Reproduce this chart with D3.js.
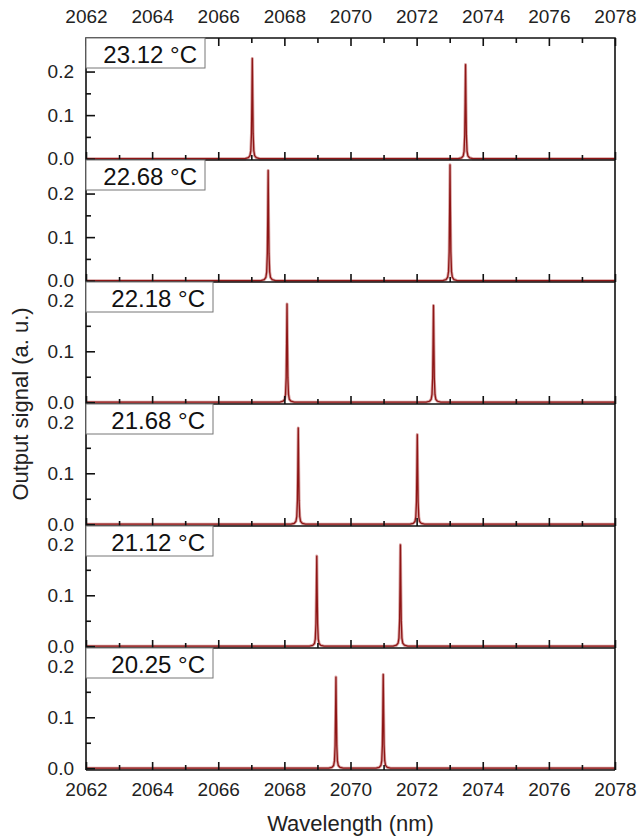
<!DOCTYPE html>
<html>
<head>
<meta charset="utf-8">
<script src="https://cdn.jsdelivr.net/npm/d3@7"></script>
<style>
  body { margin: 0; background: #fff; }
  svg { display: block; font-family: "Liberation Sans", Arial, sans-serif; }
</style>
</head>
<body>
<svg id="chart" width="637" height="839"></svg>
<script>
// temperature of each panel, top to bottom
const temps = ["23.12 °C", "22.68 °C", "22.18 °C", "21.68 °C", "21.12 °C", "20.25 °C"]

// peak positions (nm) and heights (a. u.)
const peakCenters = [
  [2067.03, 2073.48],
  [2067.51, 2073.01],
  [2068.08, 2072.51],
  [2068.42, 2072.02],
  [2068.98, 2071.51],
  [2069.56, 2070.99],
]
const peakHeights = [
  [0.230, 0.216],
  [0.253, 0.266],
  [0.193, 0.190],
  [0.189, 0.176],
  [0.177, 0.199],
  [0.179, 0.184],
]

// line shape of a single peak: offset from centre (nm) and fraction of the peak height
const profileOffset = [-0.22, -0.12, -0.07, -0.045, -0.025, -0.012, 0, 0.012, 0.025, 0.045, 0.07, 0.12, 0.22]
const profileLevel  = [0, 0.01, 0.03, 0.08, 0.25, 0.6, 1, 0.6, 0.25, 0.08, 0.03, 0.01, 0]

// y ranges of the panels
const yMin = [-0.003, -0.003, -0.0035, -0.0035, -0.0035, -0.0035]
const yMax = [0.277, 0.277, 0.236, 0.236, 0.236, 0.236]

const xDomain = [2062, 2078]
const xMajor = [2062, 2064, 2066, 2068, 2070, 2072, 2074, 2076, 2078]
const xMinor = [2063, 2065, 2067, 2069, 2071, 2073, 2075, 2077]
const yMajor = [0, 0.1, 0.2]
const yMinor = [0.05, 0.15, 0.25]

const plotLeft = 86, plotRight = 615, plotTop = 38, panelH = 122
const lineColor = "#8e1616"

const svg = d3.select("#chart")

const x = d3.scaleLinear().domain(xDomain).range([plotLeft, plotRight])

function spectrum(i) {
  let pts = [[xDomain[0], 0]]
  peakCenters[i].forEach(function(c, k) {
    profileOffset.forEach(function(o, j) {
      pts.push([c + o, peakHeights[i][k] * profileLevel[j]])
    })
  })
  pts.push([xDomain[1], 0])
  return pts
}

function tidy(g) {
  g.select(".domain").remove()
  g.selectAll(".tick line").attr("stroke", "#111").attr("stroke-width", 1.6)
  g.selectAll(".tick text").attr("fill", "#222").attr("font-size", 19)
}

temps.forEach(function(t, i) {
  let y0 = plotTop + i * panelH
  let y1 = y0 + panelH
  let y = d3.scaleLinear().domain([yMin[i], yMax[i]]).range([y1, y0])

  let line = d3.line().x(d => x(d[0])).y(d => y(d[1]))
  let data = spectrum(i)

  svg.append("path")
    .attr("d", line(data))
    .attr("fill", "none")
    .attr("stroke", "#d9a3a3")
    .attr("stroke-width", 3)
    .attr("stroke-linejoin", "round")

  svg.append("path")
    .attr("d", line(data))
    .attr("fill", "none")
    .attr("stroke", lineColor)
    .attr("stroke-width", 1.3)
    .attr("stroke-linejoin", "round")

  // bottom axis of the panel, ticks pointing inward
  let last = i == temps.length - 1
  svg.append("g")
    .attr("transform", `translate(0,${y1})`)
    .call(d3.axisBottom(x).tickValues(xMajor).tickSize(-8).tickPadding(13)
      .tickFormat(last ? d3.format("d") : ""))
    .call(tidy)
  svg.append("g")
    .attr("transform", `translate(0,${y1})`)
    .call(d3.axisBottom(x).tickValues(xMinor).tickSize(-5).tickFormat(""))
    .call(tidy)

  // left axis
  svg.append("g")
    .attr("transform", `translate(${plotLeft},0)`)
    .call(d3.axisLeft(y).tickValues(yMajor).tickSize(-9).tickPadding(12).tickFormat(d3.format(".1f")))
    .call(tidy)
  svg.append("g")
    .attr("transform", `translate(${plotLeft},0)`)
    .call(d3.axisLeft(y).tickValues(yMinor.filter(v => v < yMax[i])).tickSize(-5).tickFormat(""))
    .call(tidy)

  svg.append("line")
    .attr("x1", plotLeft).attr("x2", plotRight)
    .attr("y1", y1).attr("y2", y1)
    .attr("stroke", "#111").attr("stroke-width", 1.6)
})

// top axis
svg.append("g")
  .attr("transform", `translate(0,${plotTop})`)
  .call(d3.axisTop(x).tickValues(xMajor).tickSize(-8).tickPadding(15).tickFormat(d3.format("d")))
  .call(tidy)
svg.append("g")
  .attr("transform", `translate(0,${plotTop})`)
  .call(d3.axisTop(x).tickValues(xMinor).tickSize(-5).tickFormat(""))
  .call(tidy)

// frame
let plotBottom = plotTop + temps.length * panelH
svg.append("path")
  .attr("d", `M${plotLeft},${plotBottom}V${plotTop}H${plotRight}V${plotBottom}`)
  .attr("fill", "none")
  .attr("stroke", "#111")
  .attr("stroke-width", 1.6)

// temperature labels on top of everything
temps.forEach(function(t, i) {
  let y0 = plotTop + i * panelH
  let boxW = i < 2 ? 119 : 127
  svg.append("rect")
    .attr("x", plotLeft).attr("y", y0)
    .attr("width", boxW).attr("height", 30)
    .attr("fill", "#fff")
    .attr("stroke", "#777")
    .attr("stroke-width", 1)
  svg.append("text")
    .attr("x", plotLeft + boxW - 8)
    .attr("y", y0 + 25)
    .attr("text-anchor", "end")
    .attr("font-size", 24)
    .attr("fill", "#111")
    .text(t)
})

// axis titles
svg.append("text")
  .attr("x", (plotLeft + plotRight) / 2)
  .attr("y", 831)
  .attr("text-anchor", "middle")
  .attr("font-size", 22)
  .attr("fill", "#222")
  .text("Wavelength (nm)")

svg.append("text")
  .attr("transform", `translate(28,${plotTop + temps.length * panelH / 2}) rotate(-90)`)
  .attr("text-anchor", "middle")
  .attr("font-size", 22)
  .attr("fill", "#222")
  .text("Output signal (a. u.)")
</script>
</body>
</html>
